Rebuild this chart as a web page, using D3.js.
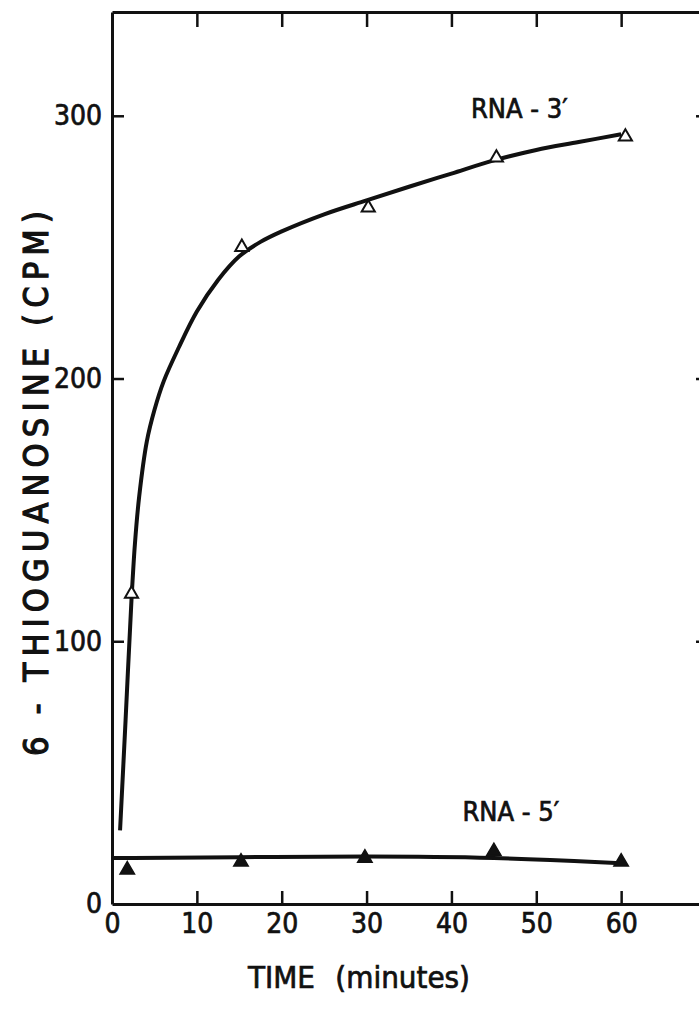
<!DOCTYPE html>
<html>
<head>
<meta charset="utf-8">
<script src="https://cdn.jsdelivr.net/npm/d3@7"></script>
<style>
  body { margin: 0; background: #fff; }
  svg text { font-family: "DejaVu Sans Condensed", "Liberation Sans Narrow", sans-serif; fill: #111; stroke: #111; stroke-width: 0.7px; }
</style>
</head>
<body>
<div id="viz"></div>
<script>
// measured points
const timeRna3 = [2.3, 15.3, 30.2, 45.3, 60.5];
const cpmRna3 = [118, 250, 265, 284, 292];
const timeRna5 = [1.8, 15.2, 29.8, 45, 60];
const cpmRna5 = [13, 16, 17.5, 20, 16];

// hand drawn smooth curves
const fitTime3 = [0.95, 1.6, 2.3, 2.7, 3.2, 4.1, 5.0, 6.1, 7.9, 10, 12.5, 15, 17.5, 20, 25, 30, 35, 40, 45, 50, 55, 60];
const fitCpm3 = [28, 70, 116, 137, 155, 176, 188, 199, 212, 225.5, 237.5, 246.5, 252, 256, 262.5, 267.8, 273, 278, 283, 287, 290, 293];
const fitTime5 = [0, 15, 30, 45, 60];
const fitCpm5 = [17.5, 17.8, 18.2, 17.8, 15.5];

const xTicks = [0, 10, 20, 30, 40, 50, 60];
const yTicks = [0, 100, 200, 300];

function buildChart(containerId) {
    const width = 699;
    const height = 1012;

    const margin = { top: 12, left: 112, bottom: 108, right: -7 };
    const innerWidth = width - margin.left - margin.right;
    const innerHeight = height - margin.top - margin.bottom;

    const svg = d3.select(containerId)
        .append('svg')
        .attr('width', width)
        .attr('height', height);

    const g = svg.append('g')
        .attr('transform', `translate(${margin.left},${margin.top})`);

    const x = d3.scaleLinear().domain([0, 70]).range([0, innerWidth]);
    const y = d3.scaleLinear().domain([0, 339.5]).range([innerHeight, 0]);

    // frame + ticks (ticks point inward)
    const bottom = g.append('g')
        .attr('transform', `translate(0,${innerHeight})`)
        .call(d3.axisBottom(x).tickValues(xTicks).tickSizeInner(-13).tickSizeOuter(0).tickPadding(9));
    bottom.selectAll('.tick text').attr('font-size', 28);

    const left = g.append('g')
        .call(d3.axisLeft(y).tickValues(yTicks).tickSizeInner(-12).tickSizeOuter(0).tickPadding(10));
    left.selectAll('.tick text').attr('font-size', 28);

    g.append('g')
        .call(d3.axisTop(x).tickValues(xTicks.slice(1)).tickSizeInner(-15).tickSizeOuter(0).tickFormat(''));

    g.append('g')
        .attr('transform', `translate(${innerWidth},0)`)
        .call(d3.axisRight(y).tickValues(yTicks.slice(1)).tickSizeInner(-10).tickSizeOuter(0).tickFormat(''));

    g.selectAll('.domain').attr('stroke', '#111').attr('stroke-width', 3);
    g.selectAll('.tick line').attr('stroke', '#111').attr('stroke-width', 2.5);
    bottom.selectAll('.tick').filter(d => d === 0).select('line').remove();
    left.selectAll('.tick').filter(d => d === 0).select('line').remove();

    const line = d3.line()
        .x(d => x(d[0]))
        .y(d => y(d[1]))
        .curve(d3.curveCatmullRom.alpha(0.5));

    g.append('path')
        .datum(d3.zip(fitTime3, fitCpm3))
        .attr('fill', 'none')
        .attr('stroke', '#111')
        .attr('stroke-width', 4)
        .attr('d', line);

    g.append('path')
        .datum(d3.zip(fitTime5, fitCpm5))
        .attr('fill', 'none')
        .attr('stroke', '#111')
        .attr('stroke-width', 4)
        .attr('d', line.curve(d3.curveBasis));

    const tri = d3.symbol().type(d3.symbolTriangle);

    g.selectAll('.open')
        .data(d3.zip(timeRna3, cpmRna3))
        .enter()
        .append('path')
        .attr('class', 'open')
        .attr('transform', d => `translate(${x(d[0])},${y(d[1])})`)
        .attr('d', tri.size(75)())
        .attr('fill', '#fff')
        .attr('stroke', '#111')
        .attr('stroke-width', 2);

    g.selectAll('.filled')
        .data(d3.zip(timeRna5, cpmRna5))
        .enter()
        .append('path')
        .attr('class', 'filled')
        .attr('transform', d => `translate(${x(d[0])},${y(d[1])})`)
        .attr('d', tri.size(90)())
        .attr('fill', '#111')
        .attr('stroke', '#111')
        .attr('stroke-width', 1.5);

    g.append('text')
        .attr('x', x(48))
        .attr('y', y(299))
        .attr('text-anchor', 'middle')
        .attr('font-size', 27)
        .text('RNA - 3′');

    g.append('text')
        .attr('x', x(47))
        .attr('y', y(31.5))
        .attr('text-anchor', 'middle')
        .attr('font-size', 27)
        .text('RNA - 5′');

    // axis titles
    svg.append('text')
        .attr('transform', `translate(48,${margin.top + y(160)}) rotate(-90)`)
        .attr('text-anchor', 'middle')
        .attr('font-size', 34)
        .style('stroke-width', '1.2px')
        .attr('textLength', 545)
        .attr('lengthAdjust', 'spacing')
        .text('6 - THIOGUANOSINE  (CPM)');

    svg.append('text')
        .attr('x', 248)
        .attr('y', 988)
        .attr('font-size', 31)
        .text('TIME');

    svg.append('text')
        .attr('x', 470)
        .attr('y', 988)
        .attr('text-anchor', 'end')
        .attr('font-size', 31)
        .text('(minutes)');
}

buildChart('#viz');
</script>
</body>
</html>
